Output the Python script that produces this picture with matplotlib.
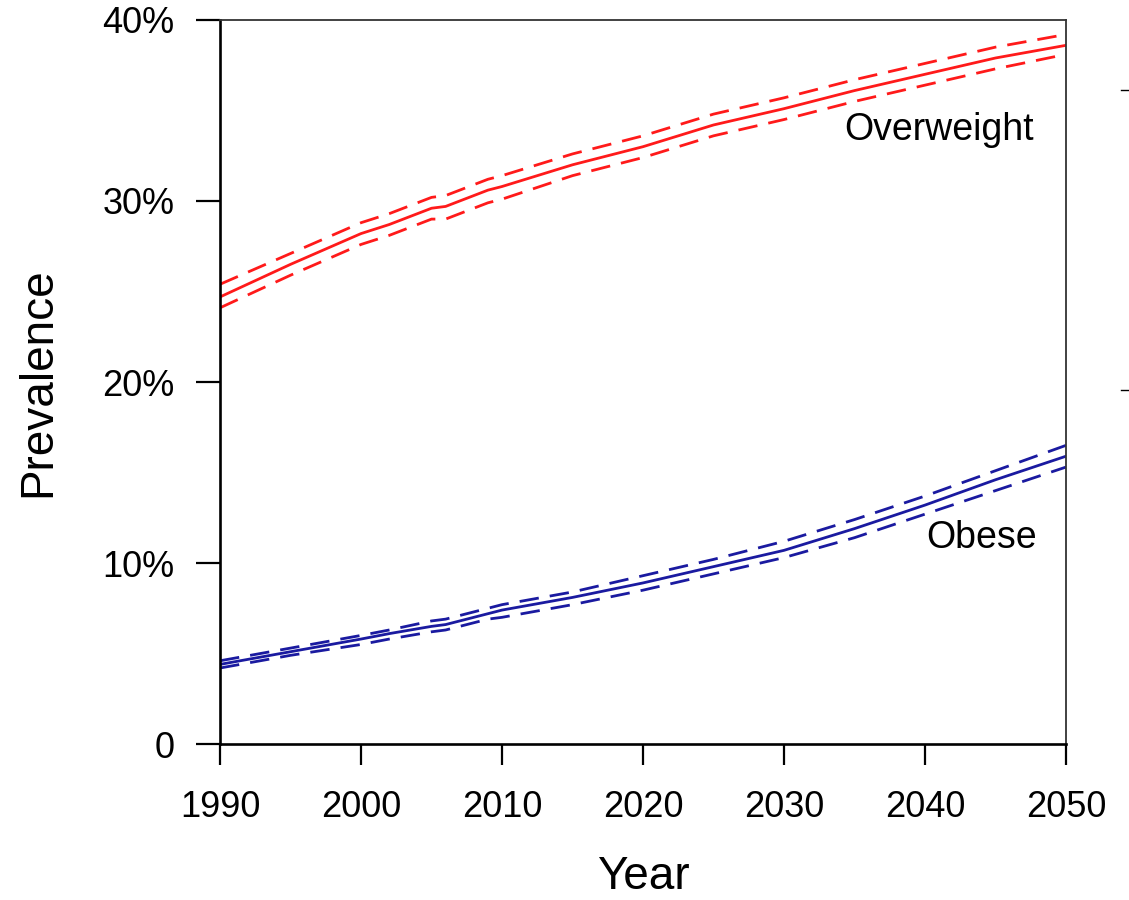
import matplotlib
matplotlib.use("Agg")
import matplotlib.pyplot as plt
from matplotlib.lines import Line2D
from matplotlib.ticker import FuncFormatter

plt.rcParams['font.family'] = ['Liberation Sans', 'DejaVu Sans']

# projected prevalence (%) with uncertainty bounds
years = [1990, 1995, 2000, 2002, 2005, 2006, 2009, 2010, 2015, 2020, 2025, 2030, 2035, 2040, 2045, 2050]

overweight = [24.7, 26.5, 28.2, 28.7, 29.6, 29.7, 30.6, 30.8, 32.0, 33.0, 34.2, 35.1, 36.1, 37.0, 37.9, 38.6]
overweight_hi = [25.4, 27.1, 28.8, 29.3, 30.2, 30.3, 31.2, 31.4, 32.6, 33.6, 34.8, 35.7, 36.7, 37.6, 38.5, 39.2]
overweight_lo = [24.1, 25.9, 27.6, 28.1, 29.0, 29.0, 29.9, 30.1, 31.4, 32.4, 33.6, 34.5, 35.5, 36.4, 37.3, 38.1]

obese = [4.4, 5.1, 5.8, 6.1, 6.5, 6.6, 7.2, 7.4, 8.1, 8.9, 9.8, 10.7, 11.9, 13.2, 14.6, 15.9]
obese_hi = [4.6, 5.3, 6.0, 6.3, 6.8, 6.9, 7.5, 7.7, 8.4, 9.3, 10.2, 11.2, 12.4, 13.7, 15.1, 16.5]
obese_lo = [4.2, 4.9, 5.5, 5.8, 6.2, 6.3, 6.9, 7.0, 7.7, 8.5, 9.4, 10.3, 11.4, 12.7, 14.0, 15.3]

x_ticks = [1990, 2000, 2010, 2020, 2030, 2040, 2050]
y_ticks = [0, 10, 20, 30, 40]

red = '#ff1a1a'
blue = '#1a1aa0'
lw = 2.0
dash = (0, (7, 4))

fig = plt.figure(figsize=(11.29, 9), dpi=100)
ax = fig.add_axes([0.1949, 0.1733, 0.7493, 0.8045])

ax.plot(years, overweight, color=red, lw=lw)
ax.plot(years, overweight_hi, color=red, lw=lw, linestyle=dash)
ax.plot(years, overweight_lo, color=red, lw=lw, linestyle=dash)

ax.plot(years, obese, color=blue, lw=lw)
ax.plot(years, obese_hi, color=blue, lw=lw, linestyle=dash)
ax.plot(years, obese_lo, color=blue, lw=lw, linestyle=dash)

ax.text(2041.0, 33.9, 'Overweight', ha='center', va='center', fontsize=27)
ax.text(2044.0, 11.4, 'Obese', ha='center', va='center', fontsize=27)

ax.set_xlim(1990, 2050)
ax.set_ylim(0, 40)
ax.set_xticks(x_ticks)
ax.set_yticks(y_ticks)
ax.yaxis.set_major_formatter(FuncFormatter(lambda v, p: '0' if v == 0 else f'{int(v)}%'))
ax.tick_params(axis='y', direction='out', length=17, width=1.6, pad=16, labelsize=26)
ax.tick_params(axis='x', direction='out', length=15, width=1.6, pad=18, labelsize=26)

for side in ['left', 'bottom']:
    ax.spines[side].set_linewidth(1.9)
    ax.spines[side].set_color('black')
for side in ['top', 'right']:
    ax.spines[side].set_linewidth(1.3)
    ax.spines[side].set_color('#333333')

ax.set_xlabel('Year', fontsize=33, labelpad=22)
ax.set_ylabel('Prevalence', fontsize=33, labelpad=30)

# tick stubs from the neighbouring panel at the right edge
for yy in [0.9, 0.5667]:
    fig.add_artist(Line2D([0.9930, 1.0], [yy, yy], color='black', lw=1.0))

fig.savefig('out.png', dpi=100)
